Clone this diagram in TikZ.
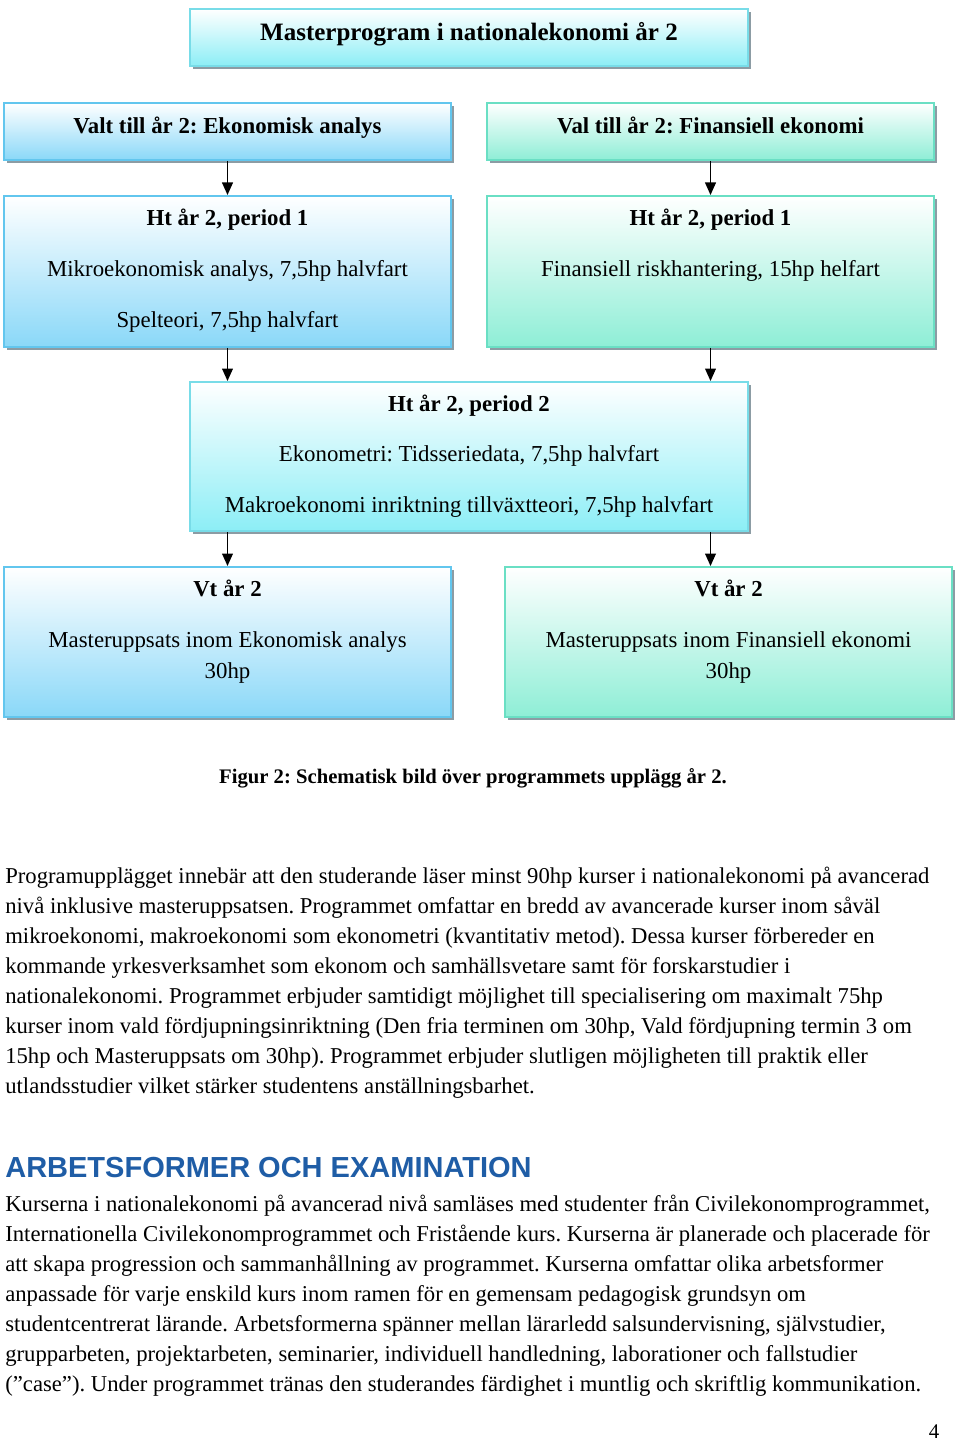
\documentclass[tikz,border=0pt]{standalone}
\usepackage{fontspec}
\setmainfont{Liberation Serif}
\newfontfamily\rubrikfont{Liberation Sans}
\usetikzlibrary{arrows.meta,shadows}

\definecolor{blakant}{HTML}{62C6EE}
\definecolor{blafyll}{HTML}{8AD8F8}
\definecolor{gronkant}{HTML}{6ADFC4}
\definecolor{gronfyll}{HTML}{8EEED6}
\definecolor{cyankant}{HTML}{78DCE8}
\definecolor{cyanfyll}{HTML}{8CEEF6}
\definecolor{skugga}{HTML}{8C9CA4}
\definecolor{rubrikbla}{HTML}{1F5DA6}

\tikzset{
  ruta/.style={rectangle, line width=1.2pt, minimum width=268.2pt,
    drop shadow={shadow xshift=1.8pt, shadow yshift=-1.8pt, fill=skugga, opacity=1}},
  blaruta/.style={ruta, draw=blakant, top color=white, bottom color=blafyll},
  gronruta/.style={ruta, draw=gronkant, top color=white, bottom color=gronfyll},
  cyanruta/.style={ruta, draw=cyankant, top color=white, bottom color=cyanfyll, minimum width=334.8pt},
  fet/.style={font=\bfseries\fontsize{13.7}{16}\selectfont, inner sep=0pt, text height=0.96em, text depth=0.2em},
  vanlig/.style={font=\fontsize{13.7}{18.6}\selectfont, inner sep=0pt, text height=0.96em, text depth=0.2em},
  stycke/.style={inner sep=0pt, anchor=north west, align=left, font=\fontsize{13.6}{18}\selectfont},
  pil/.style={-{Triangle[length=7.5pt,width=6.5pt]}, line width=0.8pt}
}

\begin{document}
\frenchspacing
\begin{tikzpicture}[x=0.6pt, y=-0.6pt]
\useasboundingbox[fill=white] (0,0) rectangle (960,1443);

% rutorna
\node[cyanruta, minimum height=34.2pt] (master) at (469,37.5) {};
\node[blaruta, minimum height=34.2pt] (valA) at (227.5,131.5) {};
\node[gronruta, minimum height=34.2pt] (valB) at (710.5,131.5) {};
\node[blaruta, minimum height=90.6pt] (htA) at (227.5,271.5) {};
\node[gronruta, minimum height=90.6pt] (htB) at (710.5,271.5) {};
\node[cyanruta, minimum height=89.4pt] (htC) at (469,456.5) {};
\node[blaruta, minimum height=90pt] (vtA) at (227.5,642) {};
\node[gronruta, minimum height=90pt] (vtB) at (728.5,642) {};

% texter i rutorna
\node[fet, font=\bfseries\fontsize{15}{17}\selectfont] (masterT) at (469,34) {Masterprogram i nationalekonomi år 2};
\node[fet] (valAT) at (227.5,127) {Valt till år 2: Ekonomisk analys};
\node[fet] (valBT) at (710.5,127) {Val till år 2: Finansiell ekonomi};
\node[fet] (htAT) at (227.5,219) {Ht år 2, period 1};
\node[vanlig] (htA1) at (227.5,270) {Mikroekonomisk analys, 7,5hp halvfart};
\node[vanlig] (htA2) at (227.5,321) {Spelteori, 7,5hp halvfart};
\node[fet] (htBT) at (710.5,219) {Ht år 2, period 1};
\node[vanlig] (htB1) at (710.5,270) {Finansiell riskhantering, 15hp helfart};
\node[fet] (htCT) at (469,405) {Ht år 2, period 2};
\node[vanlig] (htC1) at (469,455) {Ekonometri: Tidsseriedata, 7,5hp halvfart};
\node[vanlig] (htC2) at (469,506) {Makroekonomi inriktning tillväxtteori, 7,5hp halvfart};
\node[fet] (vtAT) at (227.5,590) {Vt år 2};
\node[vanlig] (vtA1) at (227.5,641) {Masteruppsats inom Ekonomisk analys};
\node[vanlig] (vtA2) at (227.5,672) {30hp};
\node[fet] (vtBT) at (728.5,590) {Vt år 2};
\node[vanlig] (vtB1) at (728.5,641) {Masteruppsats inom Finansiell ekonomi};
\node[vanlig] (vtB2) at (728.5,672) {30hp};

% pilar
\draw[pil] (valA.south) -- (htA.north);
\draw[pil] (valB.south) -- (htB.north);
\draw[pil] (htA.south) -- (htA.south |- htC.north);
\draw[pil] (htB.south) -- (htB.south |- htC.north);
\draw[pil] (htC.south -| htA.south) -- (vtA.north -| htA.south);
\draw[pil] (htC.south -| htB.south) -- (vtB.north -| htB.south);

% figurtext och brödtext
\node[fet, font=\bfseries\fontsize{12.4}{15}\selectfont] (figur) at (473,777) {Figur 2: Schematisk bild över programmets upplägg år 2.};
\node[stycke] (stycke1) at (5,867) {Programupplägget innebär att den studerande läser minst 90hp kurser i nationalekonomi på avancerad\\
nivå inklusive masteruppsatsen. Programmet omfattar en bredd av avancerade kurser inom såväl\\
mikroekonomi, makroekonomi som ekonometri (kvantitativ metod). Dessa kurser förbereder en\\
kommande yrkesverksamhet som ekonom och samhällsvetare samt för forskarstudier i\\
nationalekonomi. Programmet erbjuder samtidigt möjlighet till specialisering om maximalt 75hp\\
kurser inom vald fördjupningsinriktning (Den fria terminen om 30hp, Vald fördjupning termin 3 om\\
15hp och Masteruppsats om 30hp). Programmet erbjuder slutligen möjligheten till praktik eller\\
utlandsstudier vilket stärker studentens anställningsbarhet.};
\node[inner sep=0pt, anchor=west, text=rubrikbla, font=\rubrikfont\bfseries\fontsize{17.4}{19}\selectfont] (rubrik) at (5,1168) {ARBETSFORMER OCH EXAMINATION};
\node[stycke] (stycke2) at (5,1195) {Kurserna i nationalekonomi på avancerad nivå samläses med studenter från Civilekonomprogrammet,\\
Internationella Civilekonomprogrammet och Fristående kurs. Kurserna är planerade och placerade för\\
att skapa progression och sammanhållning av programmet. Kurserna omfattar olika arbetsformer\\
anpassade för varje enskild kurs inom ramen för en gemensam pedagogisk grundsyn om\\
studentcentrerat lärande. Arbetsformerna spänner mellan lärarledd salsundervisning, självstudier,\\
grupparbeten, projektarbeten, seminarier, individuell handledning, laborationer och fallstudier\\
(”case”). Under programmet tränas den studerandes färdighet i muntlig och skriftlig kommunikation.};
\node[inner sep=0pt, font=\fontsize{12.5}{14}\selectfont] (sida) at (934,1432) {4};
\end{tikzpicture}
\end{document}
